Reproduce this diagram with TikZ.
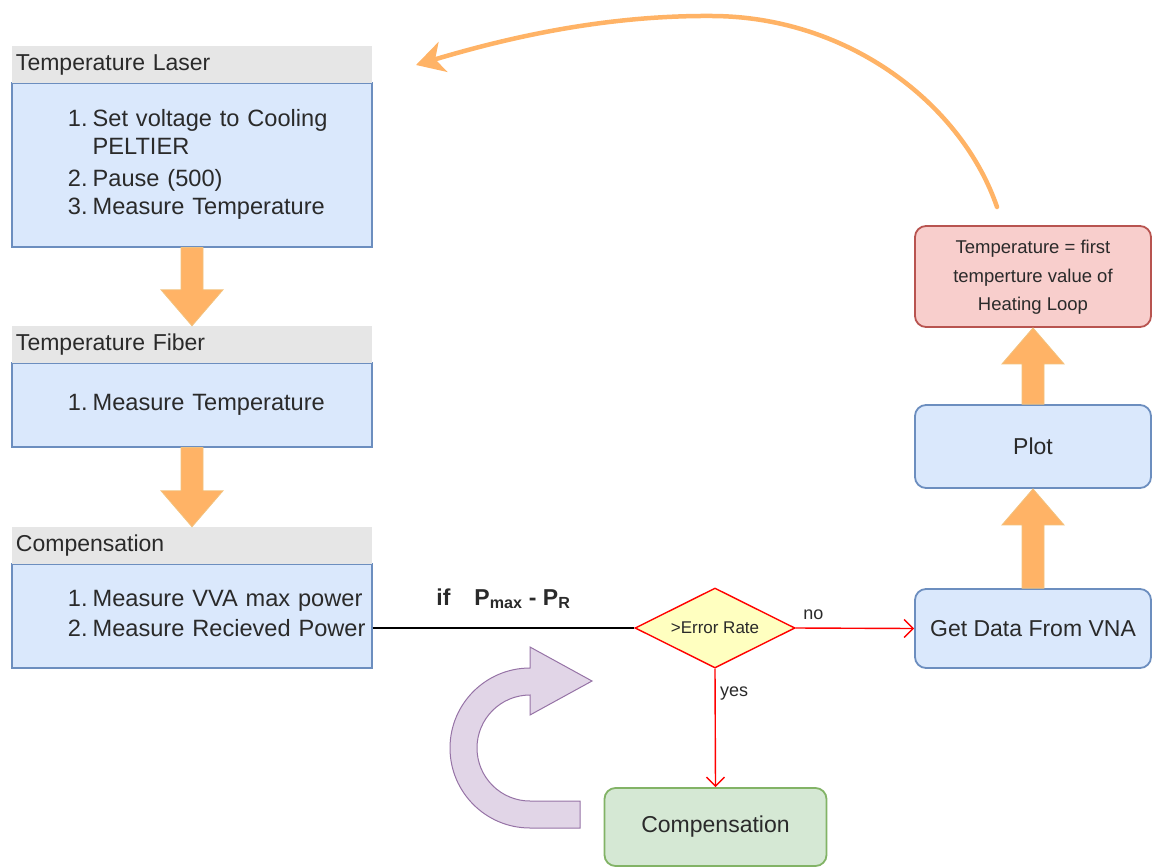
\documentclass[tikz,border=0pt]{standalone}
\usepackage{fontspec}
\setmainfont{Liberation Sans}
\usetikzlibrary{shapes.geometric, arrows.meta, calc}
\definecolor{bluefill}{HTML}{DAE8FC}
\definecolor{blueline}{HTML}{6C8EBF}
\definecolor{hdrgray}{HTML}{E6E6E6}
\definecolor{orfill}{HTML}{FFB366}
\definecolor{orline}{HTML}{F2C27E}
\definecolor{greenfill}{HTML}{D5E8D4}
\definecolor{greenline}{HTML}{82B366}
\definecolor{redfill}{HTML}{F8CECC}
\definecolor{redline}{HTML}{B85450}
\definecolor{purfill}{HTML}{E1D5E7}
\definecolor{purline}{HTML}{9673A6}
\definecolor{yelfill}{HTML}{FFFFC0}
\definecolor{txt}{HTML}{2A2A2A}
\newcommand{\bigfont}{\fontsize{23}{28}\selectfont}
\newcommand{\listfont}{\fontsize{23.6}{28}\selectfont}
\newcommand{\blockarr}[2]{%
  \path ($(#2)!36pt!(#1)$) coordinate (hb);
  \filldraw[barrow] ($(#1)!11pt!90:(#2)$) -- ($(hb)!11pt!90:(#2)$) -- ($(hb)!31pt!90:(#2)$) -- (#2)
    -- ($(hb)!31pt!-90:(#2)$) -- ($(hb)!11pt!-90:(#2)$) -- ($(#1)!11pt!-90:(#2)$) -- cycle;}
\tikzset{
  hdr/.style={fill=hdrgray, minimum width=360pt, minimum height=37pt, inner xsep=4pt, inner ysep=0pt,
    text width=352pt, align=left, font=\bigfont, text=txt},
  lanebody/.style={draw=blueline, fill=bluefill, line width=1.2pt, inner sep=0pt,
    text width=360pt, align=left, font=\listfont, text=txt},
  rbox/.style={rounded corners=11pt, line width=1.8pt, minimum width=236pt, inner sep=0pt,
    align=center, font=\bigfont, text=txt},
  bluebox/.style={rbox, draw=blueline, fill=bluefill},
  barrow/.style={fill=orfill, draw=orline, line width=0.8pt},
  redarrow/.style={draw=red, line width=1.4pt, -{Straight Barb[length=9pt,width=18pt]}},
  lbl/.style={font=\fontsize{18}{22}\selectfont, text=txt},
}
\begin{document}
\begin{tikzpicture}[x=1pt, y=-1pt]
\useasboundingbox (0,0) rectangle (1152,868);

% left column lanes
\node[lanebody, minimum height=164pt] (body1) at (192,165)
  {\hspace*{56pt}\begin{tabular}{@{}l@{\hspace{5pt}}l@{}}1. & Set voltage to Cooling\\ & PELTIER\\[4pt] 2. & Pause (500)\\ 3. & Measure Temperature\end{tabular}};
\node[hdr] (hdr1) at (192,64.5) {Temperature Laser};

\node[lanebody, minimum height=84pt] (body2) at (192,405)
  {\hspace*{56pt}\begin{tabular}{@{}l@{\hspace{5pt}}l@{}}1. & Measure Temperature\end{tabular}};
\node[hdr] (hdr2) at (192,344.5) {Temperature Fiber};

\node[lanebody, minimum height=104pt] (body3) at (192,616)
  {\hspace*{56pt}\begin{tabular}{@{}l@{\hspace{5pt}}l@{}}1. & Measure VVA max power\\[2pt] 2. & Measure Recieved Power\end{tabular}};
\node[hdr] (hdr3) at (192,545.5) {Compensation};

% right column
\node[rbox, draw=redline, fill=redfill, minimum height=101pt, font=\fontsize{18.5}{28.5}\selectfont] (redbox) at (1033,276.5)
  {\raisebox{-4pt}{\begin{tabular}{@{}c@{}}Temperature = first\\temperture value of\\Heating Loop\end{tabular}}};
\node[bluebox, minimum height=83pt] (plot) at (1033,446.5) {Plot};
\node[bluebox, minimum height=79pt] (vna) at (1033,628.5) {Get Data From VNA};

% decision and compensation
\node[diamond, draw=red, fill=yelfill, line width=1.4pt, minimum width=160pt, minimum height=80pt,
  inner sep=0pt, aspect=2, font=\fontsize{17}{20}\selectfont, text=txt] (dia) at (715,628) {>Error Rate};
\node[rbox, draw=greenline, fill=greenfill, minimum width=222pt, minimum height=78pt] (comp) at (715.5,827) {Compensation};

% block arrows
\blockarr{body1.south}{hdr2.north}
\blockarr{body2.south}{hdr3.north}
\blockarr{vna.north}{plot.south}
\blockarr{plot.north}{redbox.south}

% connectors
\draw[line width=1.4pt, black] (body3.east |- dia.west) -- node[pos=0.5, above=15pt, font=\bfseries\bigfont, text=txt]
  {if\hspace{24pt}P\textsubscript{max} - P\textsubscript{R}} (dia.west);
\draw[redarrow] (dia.east) -- node[pos=0.15, above=4pt, lbl] {no} (vna.west);
\draw[redarrow] (dia.south) -- node[pos=0.21, right=1pt, lbl] {yes} (comp.north);

% curved feedback arrow
\coordinate (cs) at (997,207);
\coordinate (ce) at (416,65);
\draw[orfill, line width=4.5pt, line cap=round, -{Stealth[length=28pt,width=31pt,inset=8pt]}]
  (cs) .. controls (962,105) and (850,17) .. (713,16) .. controls (600,15) and (500,40) .. (ce);

% purple U-turn arrow
\filldraw[fill=purfill, draw=purline, line width=1pt]
  (530,668) arc[start angle=270, end angle=90, radius=80] -- (580,828) -- (580,801) -- (530,801)
  arc[start angle=90, end angle=270, radius=53] -- (530,715) -- (592,681) -- (530,647) -- cycle;
\end{tikzpicture}
\end{document}
